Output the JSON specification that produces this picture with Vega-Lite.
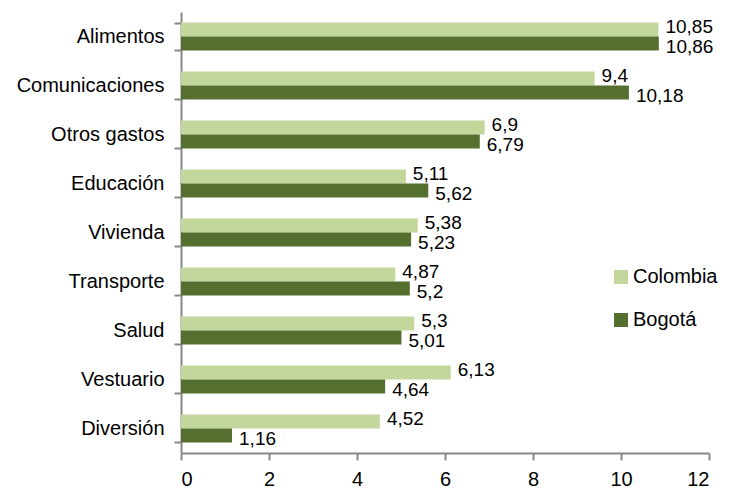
{
  "$schema": "https://vega.github.io/schema/vega-lite/v6.json",
  "width": 528,
  "height": 441,
  "autosize": "none",
  "padding": {"left": 181, "top": 12, "right": 23, "bottom": 39},
  "config": {
    "font": "Liberation Sans",
    "view": {"stroke": null},
    "locale": {"number": {"decimal": ",", "thousands": ".", "grouping": [3], "currency": ["", ""]}}
  },
  "data": {
    "values": [
      {"categoria": "Alimentos", "serie": "Colombia", "valor": 10.85},
      {"categoria": "Alimentos", "serie": "Bogotá", "valor": 10.86},
      {"categoria": "Comunicaciones", "serie": "Colombia", "valor": 9.4},
      {"categoria": "Comunicaciones", "serie": "Bogotá", "valor": 10.18},
      {"categoria": "Otros gastos", "serie": "Colombia", "valor": 6.9},
      {"categoria": "Otros gastos", "serie": "Bogotá", "valor": 6.79},
      {"categoria": "Educación", "serie": "Colombia", "valor": 5.11},
      {"categoria": "Educación", "serie": "Bogotá", "valor": 5.62},
      {"categoria": "Vivienda", "serie": "Colombia", "valor": 5.38},
      {"categoria": "Vivienda", "serie": "Bogotá", "valor": 5.23},
      {"categoria": "Transporte", "serie": "Colombia", "valor": 4.87},
      {"categoria": "Transporte", "serie": "Bogotá", "valor": 5.2},
      {"categoria": "Salud", "serie": "Colombia", "valor": 5.3},
      {"categoria": "Salud", "serie": "Bogotá", "valor": 5.01},
      {"categoria": "Vestuario", "serie": "Colombia", "valor": 6.13},
      {"categoria": "Vestuario", "serie": "Bogotá", "valor": 4.64},
      {"categoria": "Diversión", "serie": "Colombia", "valor": 4.52},
      {"categoria": "Diversión", "serie": "Bogotá", "valor": 1.16}
    ]
  },
  "encoding": {
    "y": {
      "field": "categoria",
      "type": "nominal",
      "sort": ["Alimentos", "Comunicaciones", "Otros gastos", "Educación", "Vivienda", "Transporte", "Salud", "Vestuario", "Diversión"],
      "scale": {"paddingInner": 0.43, "paddingOuter": 0.215},
      "axis": {
        "title": null,
        "domainColor": "#888888",
        "domainWidth": 2,
        "tickColor": "#888888",
        "tickWidth": 2,
        "tickSize": 7,
        "tickBand": "extent",
        "labelFontSize": 20,
        "labelColor": "#000000",
        "labelPadding": 10
      }
    },
    "yOffset": {"field": "serie", "sort": ["Colombia", "Bogotá"]},
    "x": {
      "field": "valor",
      "type": "quantitative",
      "scale": {"domain": [0, 12], "nice": false},
      "axis": {
        "title": null,
        "values": [0, 2, 4, 6, 8, 10, 12],
        "grid": false,
        "domainColor": "#888888",
        "domainWidth": 2,
        "tickColor": "#888888",
        "tickWidth": 2,
        "tickSize": 7,
        "labelFontSize": 20,
        "labelColor": "#000000",
        "labelPadding": 9,
        "format": "~g"
      }
    }
  },
  "layer": [
    {
      "mark": {"type": "bar"},
      "encoding": {
        "color": {
          "field": "serie",
          "type": "nominal",
          "sort": ["Colombia", "Bogotá"],
          "scale": {"domain": ["Colombia", "Bogotá"], "range": ["#C3D69B", "#55702E"]},
          "legend": {
            "title": null,
            "orient": "none",
            "legendX": 430,
            "legendY": 255,
            "symbolType": "square",
            "symbolSize": 196,
            "symbolStrokeWidth": 0,
            "labelFontSize": 20,
            "labelColor": "#000000",
            "rowPadding": 23,
            "labelOffset": 2
          }
        }
      }
    },
    {
      "transform": [{"filter": "datum.serie === 'Colombia'"}],
      "mark": {"type": "text", "align": "left", "baseline": "middle", "dx": 7, "dy": -3, "fontSize": 19, "color": "#000000"},
      "encoding": {
        "text": {"field": "valor", "type": "quantitative", "format": "~g"}
      }
    },
    {
      "transform": [{"filter": "datum.serie === 'Bogotá'"}],
      "mark": {"type": "text", "align": "left", "baseline": "middle", "dx": 7, "dy": 4, "fontSize": 19, "color": "#000000"},
      "encoding": {
        "text": {"field": "valor", "type": "quantitative", "format": "~g"}
      }
    }
  ]
}
